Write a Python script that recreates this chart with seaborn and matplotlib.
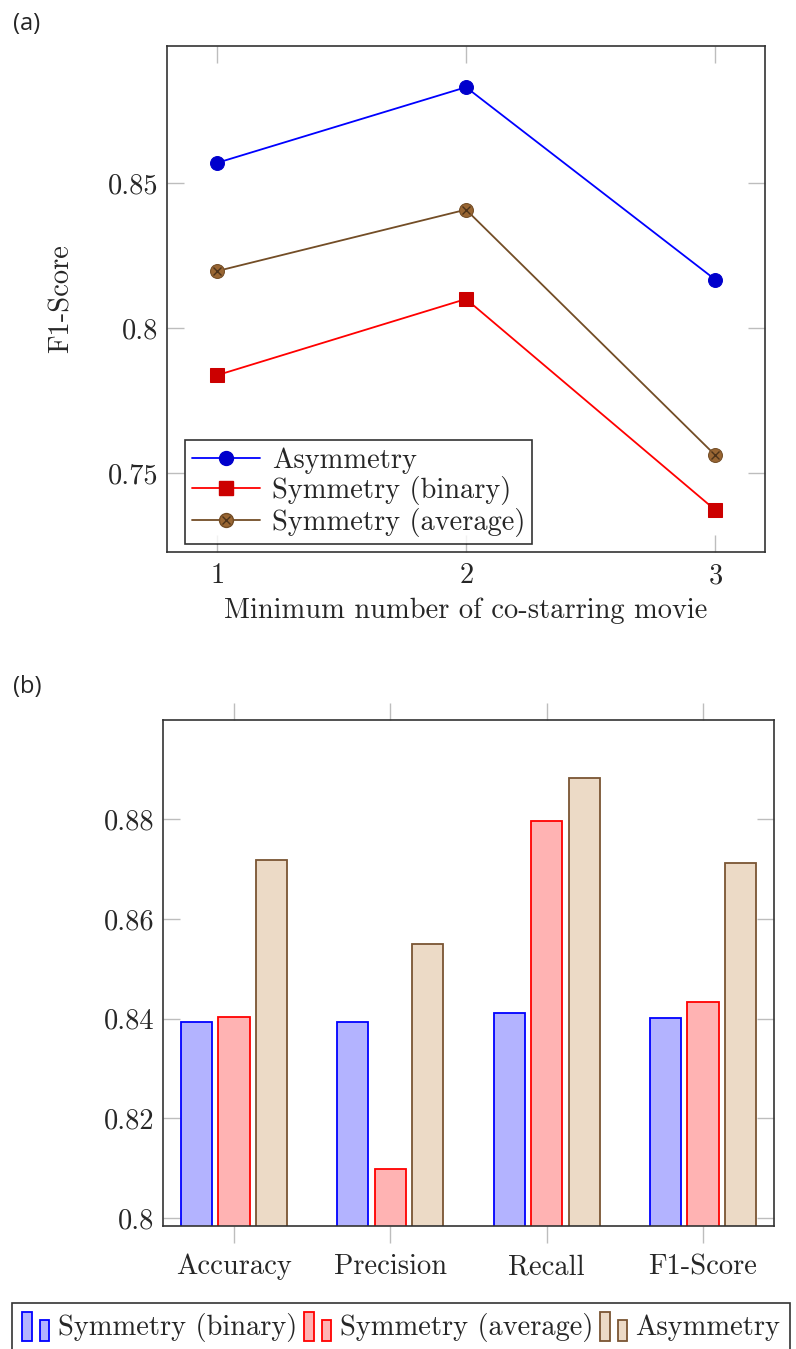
import numpy as np
import pandas as pd
import seaborn as sns
import matplotlib
matplotlib.use("Agg")
import matplotlib.pyplot as plt
from matplotlib.patches import Rectangle
from matplotlib.lines import Line2D
from matplotlib.legend_handler import HandlerBase, HandlerTuple

# ---- data ----
min_costar = [1, 2, 3]
f1_asym = [0.8569, 0.8830, 0.8167]
f1_sym_binary = [0.7837, 0.8100, 0.7373]
f1_sym_average = [0.8196, 0.8408, 0.7562]

metrics = ["Accuracy", "Precision", "Recall", "F1-Score"]
methods = ["Symmetry (binary)", "Symmetry (average)", "Asymmetry"]
bar_sym_binary = [0.8393, 0.8393, 0.8411, 0.8401]
bar_sym_average = [0.8404, 0.8099, 0.8796, 0.8433]
bar_asym = [0.8718, 0.8550, 0.8883, 0.8713]

sns.set_style("white")
plt.rcParams["font.family"] = ["cmr10", "DejaVu Serif"]
plt.rcParams["axes.formatter.use_mathtext"] = True
plt.rcParams["mathtext.fontset"] = "cm"

FS = 20.5
TICKC = "#bdbdbd"
SPINEC = "#333333"

fig = plt.figure(figsize=(7.96, 13.49), dpi=100)

def style_axes(ax, xdir):
    for s in ax.spines.values():
        s.set_color(SPINEC)
        s.set_linewidth(1.2)
        s.set_visible(True)
    ax.tick_params(axis="y", direction="in", left=True, right=True,
                   length=12, width=1, color=TICKC, labelsize=FS, pad=6)
    ax.tick_params(axis="x", direction=xdir, bottom=True, top=True,
                   length=12, width=1, color=TICKC, labelsize=FS, pad=8)

# ---------------- (a) line chart ----------------
ax1 = fig.add_axes([167/796, 1-552/1349, (765-167)/796, (552-46)/1349])
sns.lineplot(x=min_costar, y=f1_asym, ax=ax1, color="blue", lw=1.3,
             marker="o", markersize=10, markerfacecolor="#0000cc",
             markeredgecolor="#0000cc")
sns.lineplot(x=min_costar, y=f1_sym_binary, ax=ax1, color="red", lw=1.3,
             marker="s", markersize=9.5, markerfacecolor="#cc0000",
             markeredgecolor="#cc0000")
sns.lineplot(x=min_costar, y=f1_sym_average, ax=ax1, color="#734d26", lw=1.3,
             marker="o", markersize=10, markerfacecolor="#996633",
             markeredgecolor="#734d26")
ax1.plot(min_costar, f1_sym_average, ls="none", marker="x", ms=6,
         mec="#4d331a", mew=1)
ax1.set_xlim(0.8, 3.2)
ax1.set_ylim(0.7228, 0.8972)
ax1.set_xticks(min_costar)
ax1.set_yticks([0.75, 0.8, 0.85])
ax1.set_yticklabels(["0.75", "0.8", "0.85"])
ax1.set_xlabel("Minimum number of co-starring movie", fontsize=FS, labelpad=6)
ax1.set_ylabel("F1-Score", fontsize=FS, labelpad=24)
style_axes(ax1, "in")

h_asym = Line2D([], [], color="blue", lw=1.3, marker="o", ms=10,
                mfc="#0000cc", mec="#0000cc")
h_bin = Line2D([], [], color="red", lw=1.3, marker="s", ms=9.5,
               mfc="#cc0000", mec="#cc0000")
h_avg = (Line2D([], [], color="#734d26", lw=1.3, marker="o", ms=10,
                mfc="#996633", mec="#734d26"),
         Line2D([], [], ls="none", marker="x", ms=6, mec="#4d331a", mew=1))
leg1 = ax1.legend([h_asym, h_bin, h_avg],
                  ["Asymmetry", "Symmetry (binary)", "Symmetry (average)"],
                  handler_map={tuple: HandlerTuple(ndivide=1)},
                  loc="lower left", bbox_to_anchor=(0.03, 0.015),
                  fontsize=FS, frameon=True, fancybox=False, edgecolor="black",
                  handlelength=2.4, handletextpad=0.4, labelspacing=0.1,
                  borderpad=0.25, borderaxespad=0)
leg1.get_frame().set_linewidth(1.2)

# ---------------- (b) bar chart ----------------
ax2 = fig.add_axes([163/796, 1-1226/1349, (774-163)/796, (1226-720)/1349])
df = pd.DataFrame({
    "metric": metrics * 3,
    "method": np.repeat(methods, len(metrics)),
    "value": bar_sym_binary + bar_sym_average + bar_asym,
})
fills = ["#b3b3ff", "#ffb3b3", "#ecdac6"]
edges = ["blue", "red", "#7a5533"]
sns.barplot(data=df, x="metric", y="value", hue="method", hue_order=methods,
            order=metrics, palette=fills, width=0.72, gap=0.167,
            saturation=1, legend=False, ax=ax2, errorbar=None)
for cont, ec in zip(ax2.containers, edges):
    for p in cont:
        p.set_edgecolor(ec)
        p.set_linewidth(1.3)
ax2.set_xlim(-0.454, 3.454)
ax2.set_ylim(0.7984, 0.8999)
yt = [0.8, 0.82, 0.84, 0.86, 0.88]
ax2.set_yticks(yt)
ax2.set_yticklabels([f"{v:g}" for v in yt])
ax2.set_xlabel("")
ax2.set_ylabel("")
style_axes(ax2, "out")


class TwoBars(HandlerBase):
    def create_artists(self, legend, orig, xd, yd, w, h, fontsize, trans):
        fc, ec = orig.get_facecolor(), orig.get_edgecolor()
        bw = w * 0.34
        r1 = Rectangle((xd, yd - 0.3 * h), bw, h * 1.45,
                       fc=fc, ec=ec, lw=1.3, transform=trans)
        r2 = Rectangle((xd + 0.62 * w, yd - 0.3 * h), bw, h * 1.05,
                       fc=fc, ec=ec, lw=1.3, transform=trans)
        return [r1, r2]


handles2 = [Rectangle((0, 0), 1, 1, fc=f, ec=e) for f, e in zip(fills, edges)]
leg2 = fig.legend(handles2, methods, handler_map={Rectangle: TwoBars()},
                  loc="upper left", bbox_to_anchor=(12/796, 1-1303/1349),
                  ncol=3, fontsize=FS, frameon=True, fancybox=False,
                  edgecolor="black", handlelength=1.0, handletextpad=0.25,
                  columnspacing=0.25, borderpad=0.35, borderaxespad=0)
leg2.get_frame().set_linewidth(1.2)

fig.text(13/796, 1-24/1349, "(a)", fontsize=17, family=["Open Sans", "DejaVu Sans"],
         va="center", ha="left")
fig.text(13/796, 1-687/1349, "(b)", fontsize=17, family=["Open Sans", "DejaVu Sans"],
         va="center", ha="left")

fig.savefig("out.png", dpi=100)
